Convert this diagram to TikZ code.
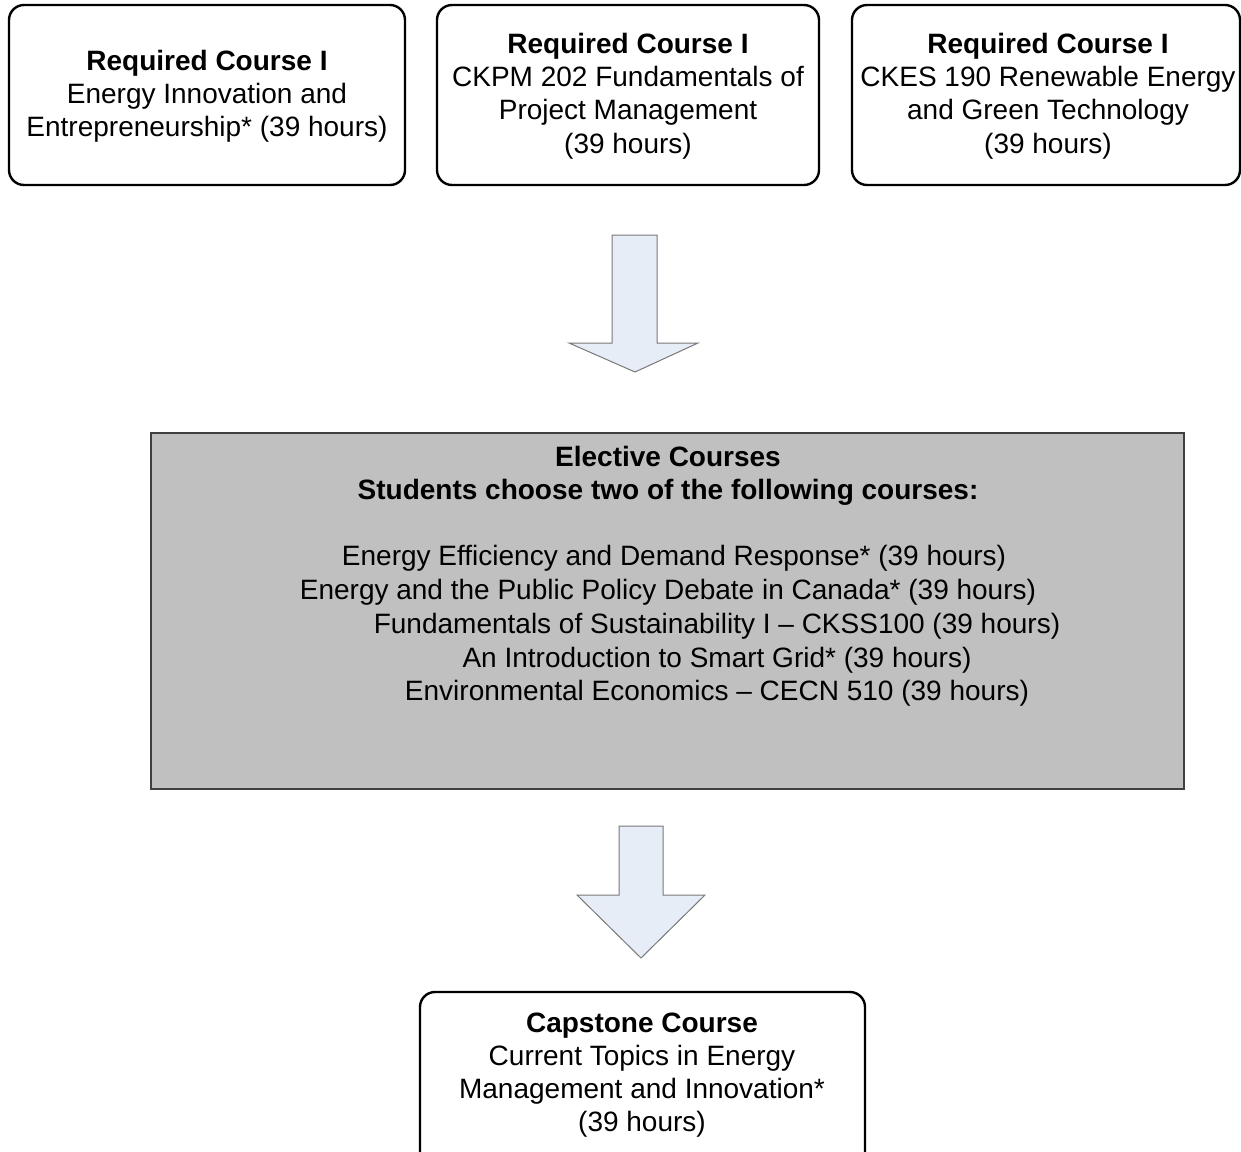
\documentclass[tikz,border=0pt]{standalone}
\usepackage{fontspec}
\setmainfont{Liberation Sans}
\definecolor{arrowfill}{RGB}{231,237,247}
\definecolor{arrowline}{RGB}{120,120,120}
\definecolor{electivefill}{RGB}{192,192,192}
\definecolor{electiveline}{RGB}{64,64,64}
\begin{document}
\begin{tikzpicture}[x=0.5pt,y=-0.5pt,
  every node/.style={inner sep=0pt,outer sep=0pt,font=\fontsize{14}{16.6}\selectfont},
  coursebox/.style={draw=black,line width=1.2pt,rounded corners=7.5pt,fill=white},
  txt/.style={align=center},
  blockarrow/.style={draw=arrowline,line width=0.5pt,fill=arrowfill,line join=miter},
  electivebox/.style={draw=electiveline,line width=0.6pt,fill=electivefill}]
\useasboundingbox (0,0) rectangle (1241,1151);
\begin{scope}
\clip (0,0) rectangle (1241,1151);

% required courses
\draw[coursebox] (9,5) rectangle (405,185);
\draw[coursebox] (437,5) rectangle (819,185);
\draw[coursebox] (852,5) rectangle (1240,185);
\node[txt] (req1) at (207,96) {\textbf{Required Course I}\\Energy Innovation and\\Entrepreneurship* (39 hours)};
\node[txt] (req2) at (628,96) {\textbf{Required Course I}\\CKPM 202 Fundamentals of\\Project Management\\(39 hours)};
\node[txt] (req3) at (1048,96) {\textbf{Required Course I}\\CKES 190 Renewable Energy\\and Green Technology\\(39 hours)};

% block arrow down to electives
\draw[blockarrow] (612,235) -- (657,235) -- (657,343) -- (698,343) -- (635,372)
  -- (569,343) -- (612,343) -- cycle;

% electives
\draw[electivebox] (151,433) rectangle (1184,789);
\node[txt] (elh) at (668,476) {\textbf{Elective Courses}\\\textbf{Students choose two of the following courses:}};
\node (e1) at (674,558) {Energy Efficiency and Demand Response* (39 hours)};
\node (e2) at (668,592) {Energy and the Public Policy Debate in Canada* (39 hours)};
\node (e3) at (717,626) {Fundamentals of Sustainability I – CKSS100 (39 hours)};
\node (e4) at (717,660) {An Introduction to Smart Grid* (39 hours)};
\node (e5) at (717,693) {Environmental Economics – CECN 510 (39 hours)};

% block arrow down to capstone
\draw[blockarrow] (619,826) -- (663,826) -- (663,895) -- (705,895) -- (641,958)
  -- (577,895) -- (619,895) -- cycle;

% capstone
\draw[coursebox] (420,992) rectangle (865,1175);
\node[txt] (cap) at (642,1075) {\textbf{Capstone Course}\\Current Topics in Energy\\Management and Innovation*\\(39 hours)};
\end{scope}
\end{tikzpicture}
\end{document}
